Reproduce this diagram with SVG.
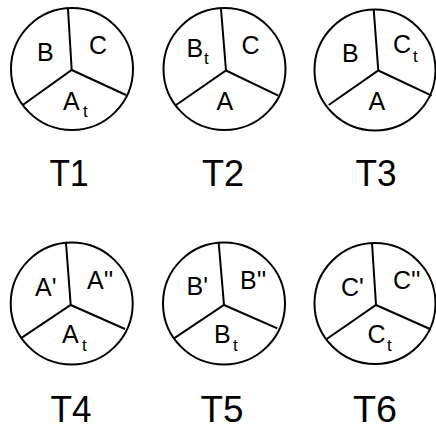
<svg xmlns="http://www.w3.org/2000/svg" width="436" height="430" viewBox="0 0 436 430">
<style>
.c{fill:#fff;stroke:#000;stroke-width:2}
.s{fill:none;stroke:#000;stroke-width:2}
text{font-family:"Liberation Sans",Arial,sans-serif;fill:#000}
.l{font-size:25px}
.sub{font-size:17px}
.t{font-size:36px;text-anchor:middle}
</style>
<rect width="436" height="430" fill="#fff"/>
<g id="T1">
<circle class="c" cx="72" cy="69" r="61"/>
<path class="s" d="M68,9 L71.7,70 M22.7,105 L71.7,70 L126,95"/>
<text class="l" x="37" y="61">B</text>
<text class="l" x="89" y="54">C</text>
<text class="l" x="63" y="110">A</text><text class="sub" x="83" y="117">t</text>
<text class="t" x="69" y="186" textLength="39" lengthAdjust="spacingAndGlyphs">T1</text>
</g>
<g id="T2">
<circle class="c" cx="224.5" cy="69" r="61"/>
<path class="s" d="M221,9 L226,70.5 M175,105.7 L226,70.5 L278.3,95.7"/>
<text class="l" x="186.5" y="57">B</text><text class="sub" x="204" y="64">t</text>
<text class="l" x="241.5" y="54">C</text>
<text class="l" x="216.5" y="110">A</text>
<text class="t" x="223" y="186" textLength="42" lengthAdjust="spacingAndGlyphs">T2</text>
</g>
<g id="T3">
<circle class="c" cx="375" cy="70" r="60.5"/>
<path class="s" d="M373.7,9.5 L378.3,70.5 M328.7,105 L378.3,70.5 L431.7,95.7"/>
<text class="l" x="342" y="61.5">B</text>
<text class="l" x="393" y="53">C</text><text class="sub" x="413" y="62">t</text>
<text class="l" x="368.5" y="110">A</text>
<text class="t" x="376" y="186" textLength="41" lengthAdjust="spacingAndGlyphs">T3</text>
</g>
<g id="T4">
<circle class="c" cx="71.7" cy="303.5" r="61"/>
<path class="s" d="M66,243 L70.7,305 M20.7,338.3 L70.7,305 L125,329"/>
<text class="l" x="35" y="296">A'</text>
<text class="l" x="87" y="289">A''</text>
<text class="l" x="62" y="343">A</text><text class="sub" x="82" y="351">t</text>
<text class="t" x="71" y="422" textLength="41" lengthAdjust="spacingAndGlyphs">T4</text>
</g>
<g id="T5">
<circle class="c" cx="224" cy="303.5" r="61"/>
<path class="s" d="M218.7,243 L224,305 M174,338.3 L224,305 L277.3,328.3"/>
<text class="l" x="186.5" y="295">B'</text>
<text class="l" x="240" y="289">B''</text>
<text class="l" x="214" y="343">B</text><text class="sub" x="233" y="351">t</text>
<text class="t" x="222" y="422" textLength="43" lengthAdjust="spacingAndGlyphs">T5</text>
</g>
<g id="T6">
<circle class="c" cx="375" cy="303.5" r="60.5"/>
<path class="s" d="M372,243 L376,305 M326.7,339 L376,305 L430,329"/>
<text class="l" x="341" y="296">C'</text>
<text class="l" x="393" y="289">C''</text>
<text class="l" x="367.5" y="343">C</text><text class="sub" x="387" y="351">t</text>
<text class="t" x="375" y="422" textLength="44" lengthAdjust="spacingAndGlyphs">T6</text>
</g>
<g id="connectors"></g>
</svg>
